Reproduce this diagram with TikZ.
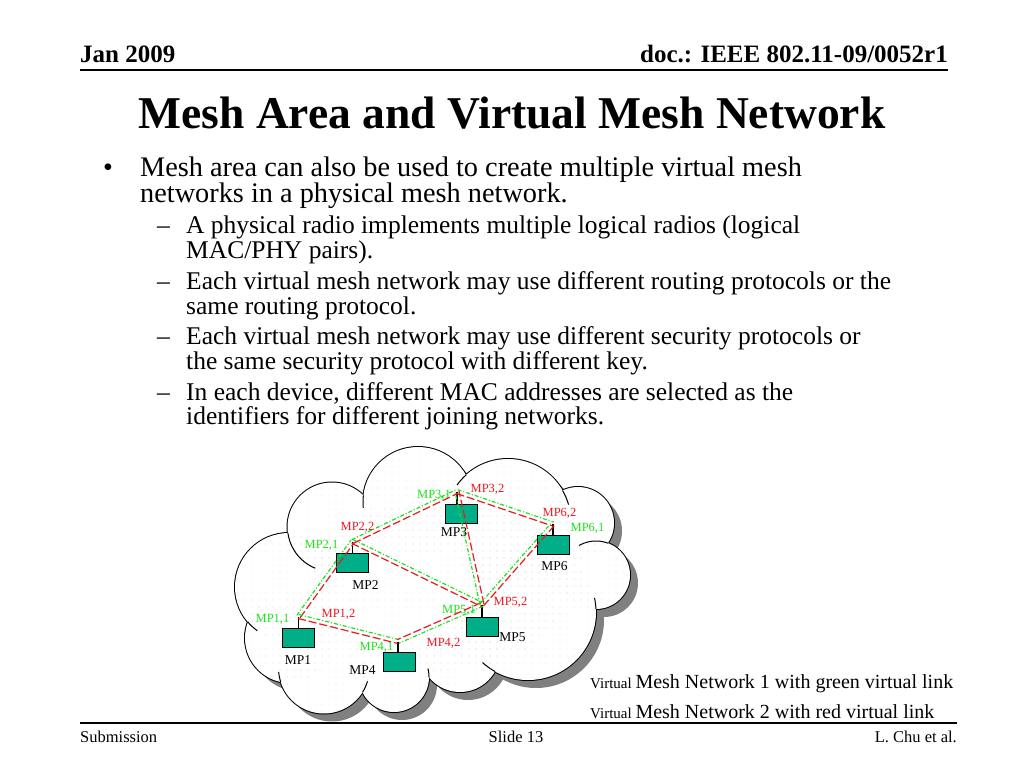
\documentclass[tikz,border=0pt]{standalone}
\usepackage{fontspec}
\setmainfont{Liberation Serif}
\usetikzlibrary{calc,patterns.meta}
\definecolor{mpteal}{RGB}{0,175,135}
\definecolor{vgreen}{RGB}{30,225,30}
\definecolor{vred}{RGB}{235,25,35}
\newcommand{\fsz}[1]{\fontsize{#1}{#1}\selectfont}
\newcommand{\ctail}[5]{\draw[line width=1pt] plot[domain=#4:#5, samples=12, smooth] ({#1+#3*cos(\x)},{#2+#3*sin(\x)});}
\newcommand{\vlink}[2]{%
  \draw[glink] ($(#1)!2pt!90:(#2)$) -- ($(#2)!2pt!-90:(#1)$);
  \draw[rlink] ($(#1)!2pt!-90:(#2)$) -- ($(#2)!2pt!90:(#1)$);}
\def\cloudcircles{418/502/55, 508/522/63, 578/523/36, 596/575/34, 528/612/68, 460/652/40, 394/677/35, 324/668/45.5, 290/638/45, 289/587/54, 332/527/44.5}
\begin{document}
\begin{tikzpicture}[x=1pt,y=-1pt,
  txt/.style={inner sep=0pt, anchor=base west},
  mpbox/.style={draw=black, line width=1pt, fill=mpteal, minimum width=32pt, minimum height=19pt, inner sep=0pt},
  mplabel/.style={inner sep=0pt, font=\fsz{13.5}},
  glabel/.style={inner sep=0pt, font=\fsz{12.5}, text=vgreen},
  rlabel/.style={inner sep=0pt, font=\fsz{12.5}, text=vred},
  glink/.style={draw=vgreen, line width=1.2pt, dash pattern=on 4pt off 2pt on 1pt off 2pt},
  rlink/.style={draw=vred, line width=1.2pt, dash pattern=on 8pt off 3pt},
  antenna/.style={draw=black, line width=1.2pt},
  rule/.style={draw=black}
]
\fill[white] (0,0) rectangle (1024,768);
\useasboundingbox (0,0) rectangle (1024,768);

% header
\node[txt, font=\bfseries\fsz{25}] (hdate) at (80,63) {Jan 2009};
\node[inner sep=0pt, anchor=base east, font=\bfseries\fsz{25}] (hdoc) at (948,63) {doc.: IEEE 802.11-09/0052r1};
\coordinate (hl) at (80,70); \coordinate (hr) at (948,70);
\draw[rule, line width=2.5pt] (hl) -- (hr);

% title
\node[inner sep=0pt, anchor=base, font=\bfseries\fsz{45.5}] (title) at (512,128) {Mesh Area and Virtual Mesh Network};

% body
\node[txt, font=\fsz{28}] (bul) at (103,176) {•};
\node[txt, font=\fsz{28.3}] (t1) at (140,176) {Mesh area can also be used to create multiple virtual mesh};
\node[txt, font=\fsz{28.3}] (t2) at (140,202) {networks in a physical mesh network.};
\node[txt, font=\fsz{25.5}] (d1) at (157,233) {–};
\node[txt, font=\fsz{25.5}] (s1a) at (186,233) {A physical radio implements multiple logical radios (logical};
\node[txt, font=\fsz{25.5}] (s1b) at (186,258) {MAC/PHY pairs).};
\node[txt, font=\fsz{25.5}] (d2) at (157,289) {–};
\node[txt, font=\fsz{25.5}] (s2a) at (186,289) {Each virtual mesh network may use different routing protocols or the};
\node[txt, font=\fsz{25.5}] (s2b) at (186,314) {same routing protocol.};
\node[txt, font=\fsz{25.5}] (d3) at (157,344) {–};
\node[txt, font=\fsz{25.5}] (s3a) at (186,344) {Each virtual mesh network may use different security protocols or};
\node[txt, font=\fsz{25.5}] (s3b) at (186,369) {the same security protocol with different key.};
\node[txt, font=\fsz{25.5}] (d4) at (157,400) {–};
\node[txt, font=\fsz{25.5}] (s4a) at (186,400) {In each device, different MAC addresses are selected as the};
\node[txt, font=\fsz{25.5}] (s4b) at (186,424) {identifiers for different joining networks.};

% cloud
\foreach \cx/\cy/\r in \cloudcircles {\fill[black!50] (\cx+8,\cy+8) circle[radius=\r];}
\fill[black!50] (448,593) ellipse[x radius=130, y radius=85];
\foreach \cx/\cy/\r in \cloudcircles {\draw[line width=2pt] (\cx,\cy) circle[radius=\r];}
\foreach \cx/\cy/\r in \cloudcircles {\fill[white] (\cx,\cy) circle[radius=\r];}
\fill[white] (440,585) ellipse[x radius=130, y radius=85];
\foreach \cx/\cy/\r in \cloudcircles {\fill[pattern={Dots[distance=7pt, radius=0.45pt]}, pattern color=black!22] (\cx,\cy) circle[radius=\r];}
\fill[pattern={Dots[distance=7pt, radius=0.45pt]}, pattern color=black!22] (440,585) ellipse[x radius=130, y radius=85];
\ctail{418}{502}{55}{174}{187}
\ctail{332}{527}{44.5}{112}{172}
\ctail{289}{587}{54}{126}{140}
\ctail{324}{668}{45.5}{162}{175}
\ctail{324}{668}{45.5}{17}{32}
\ctail{394}{677}{35}{-14}{1}
\ctail{528}{612}{68}{119}{132}
\ctail{528}{612}{68}{-12}{-2.5}
\ctail{596}{575}{34}{240}{291}
\ctail{508}{522}{63}{216}{228.5}
\ctail{508}{522}{63}{330}{344}

% mesh points
\node[mpbox] (mp1) at (298.5,637.5) {};
\node[mpbox] (mp2) at (352.5,562.5) {};
\node[mpbox] (mp3) at (461,513.5) {};
\node[mpbox] (mp4) at (399.5,661.5) {};
\node[mpbox] (mp5) at (482,626.5) {};
\node[mpbox] (mp6) at (553,545) {};
\coordinate (a1) at ($(mp1.north)+(0,-11)$);
\coordinate (a2) at ($(mp2.north)+(0,-11)$);
\coordinate (a3) at ($(mp3.north)+(-4,-12)$);
\coordinate (a4) at ($(mp4.north)+(-1.5,-10)$);
\coordinate (a5) at ($(mp5.north)+(0,-12)$);
\coordinate (a6) at ($(mp6.north)+(0,-11)$);
\foreach \i in {1,...,6} {\draw[antenna] (a\i) -- (a\i |- mp\i.north);}

\node[mplabel] (n1) at (298,660) {MP1};
\node[mplabel] (n2) at (365.5,585) {MP2};
\node[mplabel] (n3) at (454,532.5) {MP3};
\node[mplabel] (n4) at (362.5,670) {MP4};
\node[mplabel] (n5) at (512.5,637) {MP5};
\node[mplabel] (n6) at (554.5,566) {MP6};

\node[glabel] (l11) at (272.5,619) {MP1,1};
\node[rlabel] (l12) at (338.5,614.5) {MP1,2};
\node[glabel] (l21) at (321.5,545) {MP2,1};
\node[rlabel] (l22) at (357.5,527) {MP2,2};
\node[glabel] (l31) at (434,495) {MP3,1};
\node[rlabel] (l32) at (487.5,489) {MP3,2};
\node[glabel] (l41) at (376.5,647) {MP4,1};
\node[rlabel] (l42) at (443.5,643) {MP4,2};
\node[glabel] (l51) at (459,610) {MP5,1};
\node[rlabel] (l52) at (510.5,602) {MP5,2};
\node[rlabel] (l62) at (559.5,513) {MP6,2};
\node[glabel] (l61) at (587.5,528) {MP6,1};

% virtual links
\vlink{a1}{a2}
\vlink{a1}{a4}
\vlink{a5}{a4}
\vlink{a2}{a5}
\vlink{a2}{a3}
\vlink{a3}{a6}
\vlink{a5}{a3}
\vlink{a5}{a6}

% caption
\node[txt] (cap1) at (590,688) {\fsz{15}Virtual \fsz{20}Mesh Network 1 with green virtual link};
\node[txt] (cap2) at (590,718) {\fsz{15}Virtual \fsz{20}Mesh Network 2 with red virtual link};

% footer
\coordinate (fl) at (80,723); \coordinate (fr) at (957,723);
\draw[rule, line width=1.5pt] (fl) -- (fr);
\node[txt, font=\fsz{16.5}] (fsub) at (80,742) {Submission};
\node[inner sep=0pt, anchor=base, font=\fsz{16.5}] (fslide) at (516,742) {Slide 13};
\node[inner sep=0pt, anchor=base east, font=\fsz{16.5}] (fauth) at (957,742) {L. Chu et al.};
\end{tikzpicture}
\end{document}
